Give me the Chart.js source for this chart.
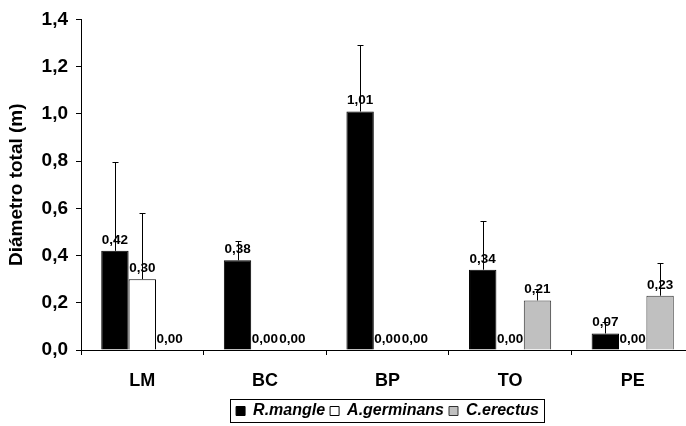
<!DOCTYPE html>
<html lang="es">

<head>
  <meta charset="UTF-8">
  <title>Diámetro total</title>
  <script src="https://cdn.jsdelivr.net/npm/chart.js@4.4.0/dist/chart.umd.min.js"></script>
  <style>
    html, body { margin: 0; padding: 0; overflow: hidden; background: #fff; }
    #wrap { width: 694px; height: 429px; }
  </style>
</head>

<body>
  <div id="wrap"><canvas id="myChart" width="694" height="429"></canvas></div>

  <script>
    // datos
    const sitios = ['LM', 'BC', 'BP', 'TO', 'PE'];
    const rMangle = [0.42, 0.38, 1.01, 0.34, 0.07];
    const aGerminans = [0.30, 0.00, 0.00, 0.00, 0.00];
    const cErectus = [0.00, 0.00, 0.00, 0.21, 0.23];
    // desviación (solo hacia arriba)
    const errRMangle = [0.375, 0.08, 0.28, 0.205, 0.05];
    const errAGerminans = [0.28, 0, 0, 0, 0];
    const errCErectus = [0, 0, 0, 0.05, 0.14];

    const fuente = "'Liberation Sans', Arial, sans-serif";
    const coma = (v, d) => v.toFixed(d).replace('.', ',');

    // etiquetas de valor y barras de error
    const etiquetas = {
      id: 'etiquetas',
      afterDatasetsDraw(chart) {
        const ctx = chart.ctx;
        const y = chart.scales.y;
        ctx.save();
        ctx.font = 'bold 13.5px ' + fuente;
        ctx.fillStyle = '#000';
        ctx.textAlign = 'center';
        ctx.textBaseline = 'alphabetic';
        chart.data.datasets.forEach((ds, i) => {
          chart.getDatasetMeta(i).data.forEach((bar, j) => {
            ctx.fillText(coma(ds.data[j], 2), bar.x, bar.y - 7);
          });
        });
        ctx.strokeStyle = '#000';
        ctx.lineWidth = 1;
        chart.data.datasets.forEach((ds, i) => {
          chart.getDatasetMeta(i).data.forEach((bar, j) => {
            const e = ds.errores[j];
            if (!e) return;
            const top = Math.round(y.getPixelForValue(ds.data[j] + e)) + 0.5;
            const x = Math.round(bar.x) + 0.5;
            ctx.beginPath();
            ctx.moveTo(x, bar.y);
            ctx.lineTo(x, top);
            ctx.moveTo(x - 3, top);
            ctx.lineTo(x + 3, top);
            ctx.stroke();
          });
        });
        ctx.restore();
      }
    };

    // marco de la leyenda
    const marcoLeyenda = {
      id: 'marcoLeyenda',
      afterDraw(chart) {
        const hb = chart.legend.legendHitBoxes;
        if (!hb || !hb.length) return;
        const last = hb[hb.length - 1];
        const l = Math.round(hb[0].left) - 5.5;
        const r = Math.round(last.left + last.width) + 5.5;
        const t = Math.round(hb[0].top) - 3.5;
        const b = Math.round(hb[0].top + hb[0].height) + 3.5;
        const ctx = chart.ctx;
        ctx.save();
        ctx.strokeStyle = '#000';
        ctx.lineWidth = 1;
        ctx.strokeRect(l, t, r - l, b - t);
        ctx.restore();
      }
    };

    let ctx = document.getElementById('myChart').getContext('2d');
    let myChart = new Chart(ctx, {
      type: 'bar',
      data: {
        labels: sitios,
        datasets: [{
          label: 'R.mangle',
          data: rMangle,
          errores: errRMangle,
          backgroundColor: '#000000',
          borderColor: '#000000',
          borderWidth: 1
        }, {
          label: 'A.germinans',
          data: aGerminans,
          errores: errAGerminans,
          backgroundColor: '#ffffff',
          borderColor: '#000000',
          borderWidth: 1
        }, {
          label: 'C.erectus',
          data: cErectus,
          errores: errCErectus,
          backgroundColor: '#c0c0c0',
          borderColor: '#333333',
          borderWidth: 1
        }]
      },
      options: {
        responsive: false,
        animation: false,
        layout: { padding: { top: 15, left: 0, right: 0, bottom: 0 } },
        datasets: { bar: { categoryPercentage: 0.67, barPercentage: 1 } },
        scales: {
          x: {
            grid: { drawOnChartArea: false, color: '#000', tickLength: 5 },
            border: { color: '#000', width: 1 },
            ticks: { color: '#000', padding: 15, font: { family: fuente, size: 18, weight: 'bold' } },
            afterFit: (s) => { s.height = 48; }
          },
          y: {
            min: 0,
            max: 1.4,
            grid: { drawOnChartArea: false, color: '#000', tickLength: 5 },
            border: { color: '#000', width: 1 },
            ticks: {
              stepSize: 0.2,
              color: '#000',
              padding: 8,
              font: { family: fuente, size: 19, weight: 'bold' },
              callback: (v) => coma(v, 1)
            },
            title: {
              display: true,
              text: 'Diámetro total (m)',
              color: '#000',
              padding: { top: 5, bottom: 0 },
              font: { family: fuente, size: 19, weight: 'bold' }
            },
            afterFit: (s) => { s.width = 81; }
          }
        },
        plugins: {
          legend: {
            position: 'bottom',
            fullSize: false,
            labels: {
              color: '#000',
              boxWidth: 9,
              boxHeight: 9,
              padding: 5,
              font: { family: fuente, size: 16, weight: 'bold', style: 'italic' }
            }
          },
          tooltip: { enabled: false }
        }
      },
      plugins: [etiquetas, marcoLeyenda]
    });
  </script>

</body>

</html>
